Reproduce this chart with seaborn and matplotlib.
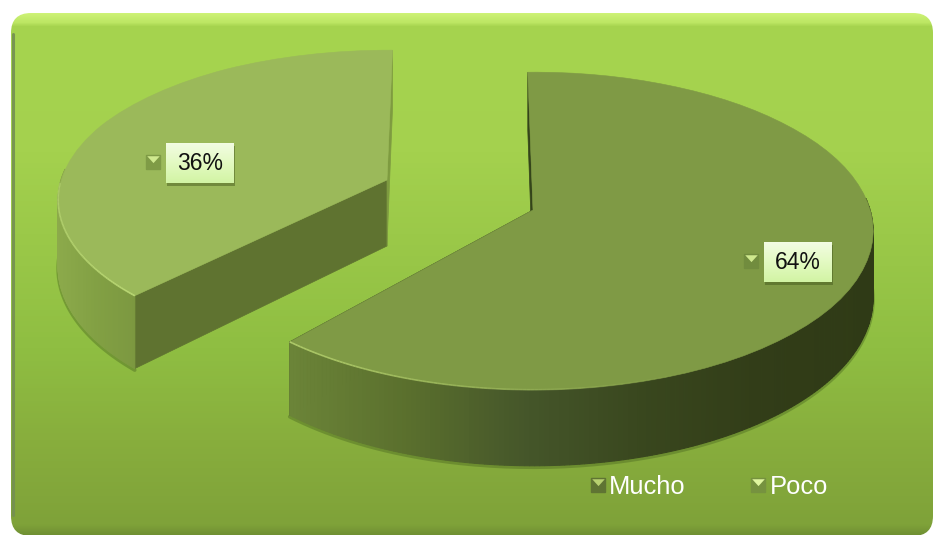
import numpy as np
import matplotlib
matplotlib.use("Agg")
import matplotlib.pyplot as plt
import seaborn as sns
from matplotlib.collections import LineCollection
from matplotlib.legend_handler import HandlerTuple
from matplotlib.lines import Line2D
from matplotlib.patches import FancyBboxPatch, Rectangle
from matplotlib.transforms import Transform

categories = ["Mucho", "Poco"]
shares = [64, 36]
value_labels = ["64%", "36%"]

# Per-slice layout of the tilted disc, in figure pixels
apex_x = [533, 387]
apex_y = [210, 180]
radius_x = [337, 326]
radius_y = [156, 147]
view_mid = [-19.75, -202.8]
view_stretch = [0.9614, 1.054]
tilt = 0.132
depth = 66

top_colors = ["#7F9A45", "#9BB95A"]
side_ramps = [
    ["#6B8438", "#5A6F2D", "#45562A", "#39471E", "#323D18", "#2F3A16"],
    ["#8CAA4B", "#82A044", "#7C9840"],
]
cut_colors = [("#34441A", "#34441A"), ("#5F7330", "#7E9B40")]
rim_colors = ["#B4D06E", "#BEDC78"]

sns.set_theme(style="white")
plt.rcParams["font.family"] = ["Liberation Sans", "DejaVu Sans"]


class TiltedDisc(Transform):
    """Projects the unit pie plane onto the page with simple perspective."""

    input_dims = 2
    output_dims = 2

    def __init__(self, cx, cy, rx, ry, a, mid, new_mid, stretch):
        super().__init__()
        self.cx, self.cy, self.rx, self.ry, self.a = cx, cy, rx, ry, a
        self.mid, self.new_mid, self.stretch = mid, new_mid, stretch

    def plane(self, values):
        # Perspective foreshortening also widens or narrows the apparent sweep
        r = np.hypot(values[:, 0], values[:, 1])
        theta = np.degrees(np.arctan2(values[:, 1], values[:, 0]))
        rel = (theta - self.mid + 180) % 360 - 180
        shown = np.radians(self.new_mid + rel * self.stretch)
        return r * np.cos(shown), r * np.sin(shown)

    def transform_non_affine(self, values):
        values = np.asarray(values, dtype=float)
        x, y = self.plane(values)
        w = 1 + self.a * y
        return np.column_stack([self.cx + self.rx * x / w, self.cy - self.ry * y / w])


def ring(disc, theta_deg):
    """Page position, wall height and plane height for points on the pie rim."""
    t = np.radians(theta_deg)
    pts = np.column_stack([np.cos(t), np.sin(t)])
    xy = disc.transform_non_affine(pts)
    _, y = disc.plane(pts)
    return xy, depth / (1 + disc.a * y), y


fig = plt.figure(figsize=(9.33, 5.35), dpi=100, facecolor="white")
ax = fig.add_axes([0, 0, 1, 1])

wedges, _ = ax.pie(shares, startangle=90, counterclock=False)
ax.set_aspect("auto")

# Panel background with a vertical gradient and a bevelled top edge
panel_ramp = sns.blend_palette(
    ["#CDF276", "#BCE663", "#A6D44F", "#A4D14E", "#8FBE42", "#88AE3D", "#7FA239", "#6F8F33"],
    as_cmap=True,
)
stops = np.interp(
    np.linspace(13, 536, 523),
    [13, 22, 26, 150, 350, 440, 525, 536],
    np.linspace(0, 1, 8),
)
panel_img = ax.imshow(
    stops[:, None], extent=(11, 933, 536, 13), cmap=panel_ramp, vmin=0, vmax=1,
    aspect="auto", zorder=0,
)
panel = FancyBboxPatch(
    (11, 13), 922, 523, boxstyle="round,pad=0,rounding_size=20",
    facecolor="none", edgecolor="none", zorder=0.5,
)
ax.add_patch(panel)
panel_img.set_clip_path(panel)
ax.plot([12.5, 12.5], [34, 515], color="#748F52", lw=2.2, alpha=0.9, zorder=0.6,
        solid_capstyle="round")

for i, wedge in enumerate(wedges):
    mid = (wedge.theta1 + wedge.theta2) / 2
    disc = TiltedDisc(apex_x[i], apex_y[i], radius_x[i], radius_y[i], tilt,
                      mid, view_mid[i], view_stretch[i])
    wedge.set_transform(disc + ax.transData)
    wedge.set_facecolor(top_colors[i])
    wedge.set_edgecolor(top_colors[i])
    wedge.set_linewidth(0.4)
    wedge.set_zorder(3)

    # Outer wall on the viewer's side of the slice, drawn as narrow bands
    thetas = np.linspace(wedge.theta1, wedge.theta2, 300)
    rim, height, plane_y = ring(disc, thetas)
    front = plane_y < 0.08
    rim, height = rim[front], height[front]
    ramp = sns.blend_palette(side_ramps[i], as_cmap=True)
    x_low, x_high = rim[:, 0].min(), rim[:, 0].max()
    base = rim + np.column_stack([np.zeros_like(height), height])
    ax.plot(base[:, 0], base[:, 1] + 1.5, color="#4E6B22", lw=2.6, alpha=0.45, zorder=1.2)
    for j in range(len(rim) - 1):
        quad = np.vstack([rim[j], rim[j + 1], base[j + 1], base[j]])
        shade = ramp((rim[j, 0] - x_low) / (x_high - x_low))
        ax.fill(quad[:, 0], quad[:, 1], facecolor=shade, edgecolor=shade, lw=0.8, zorder=2)

    # Flat cut faces on both straight edges of the slice
    apex = np.array([apex_x[i], apex_y[i]], dtype=float)
    for theta, color in zip((wedge.theta2, wedge.theta1), cut_colors[i]):
        edge, h, _ = ring(disc, np.array([theta]))
        face = np.array([apex, edge[0], edge[0] + [0, h[0]], apex + [0, depth]])
        ax.fill(face[:, 0], face[:, 1], facecolor=color, edgecolor=color, lw=0.5, zorder=1.9)

    # Light catching the front rim of the top face
    if i == 1:
        lit = np.linspace(wedge.theta2, wedge.theta2 - 42, 90)
    else:
        lit = np.linspace(wedge.theta1, wedge.theta1 + 72, 120)
    lit_xy, _, _ = ring(disc, lit)
    segs = np.stack([lit_xy[:-1], lit_xy[1:]], axis=1)
    rgba = np.tile(matplotlib.colors.to_rgba(rim_colors[i]), (len(segs), 1))
    rgba[:, 3] = np.linspace(0.9, 0.0, len(segs)) if i == 0 else np.linspace(0.9, 0.55, len(segs))
    ax.add_collection(LineCollection(segs, colors=rgba, linewidths=1.2, zorder=3.2))

KEY_TRIANGLE = [(-1, 1), (1, 1), (0, -0.1)]


def data_marker(x, y, dark, light):
    ax.plot([x], [y], marker="s", ms=10.5, color=dark, mec=dark, zorder=5, ls="none")
    ax.plot([x], [y], marker=KEY_TRIANGLE, ms=9, color=light, mec="none", zorder=5.1, ls="none")


# Value boxes beside their small slice markers
box_left = [763.5, 166]
box_top = [242, 143]
box_w, box_h = 68, 40
marker_x = [751, 153]
marker_y = [261, 162]
box_ramp = sns.blend_palette(["#F2FCE2", "#E3FAC2", "#D2F4A4"], as_cmap=True)
for i, label in enumerate(value_labels):
    ax.add_patch(Rectangle((box_left[i] + 1, box_top[i] + 3), box_w, box_h,
                           facecolor="#3E5218", alpha=0.45, edgecolor="none", zorder=5))
    ax.imshow(np.linspace(0, 1, 40)[:, None], cmap=box_ramp,
              extent=(box_left[i], box_left[i] + box_w, box_top[i] + box_h, box_top[i]),
              aspect="auto", zorder=5.5)
    ax.text(box_left[i] + box_w / 2, box_top[i] + box_h / 2 + 0.5, label, ha="center", va="center",
            fontsize=16.5, color="#111111", zorder=6)
    data_marker(marker_x[i], marker_y[i], "#718C3E" if i == 0 else "#7F9B46", "#CFE98E")

ax.set_xlim(0, 933)
ax.set_ylim(535, 0)
ax.axis("off")

# Legend entries share a two-tone square key
legend_dark = ["#5F7433", "#76923F"]
legend_light = ["#B7D070", "#E0F6A0"]
handles = [
    (Line2D([], [], marker="s", ms=10.5, color=d, mec=d, ls="none"),
     Line2D([], [], marker=KEY_TRIANGLE, ms=9, color=l, mec="none", ls="none"))
    for d, l in zip(legend_dark, legend_light)
]
ax.legend(
    handles, categories, handler_map={tuple: HandlerTuple(ndivide=1)},
    ncol=2, frameon=False, fontsize=18.4, labelcolor="white",
    loc="center left", bbox_to_anchor=(586 / 933, 1 - 487 / 535), bbox_transform=fig.transFigure,
    handlelength=0.9, handletextpad=0.0, columnspacing=2.39, borderpad=0, borderaxespad=0,
)

fig.savefig("out.png", dpi=100, facecolor="white")
